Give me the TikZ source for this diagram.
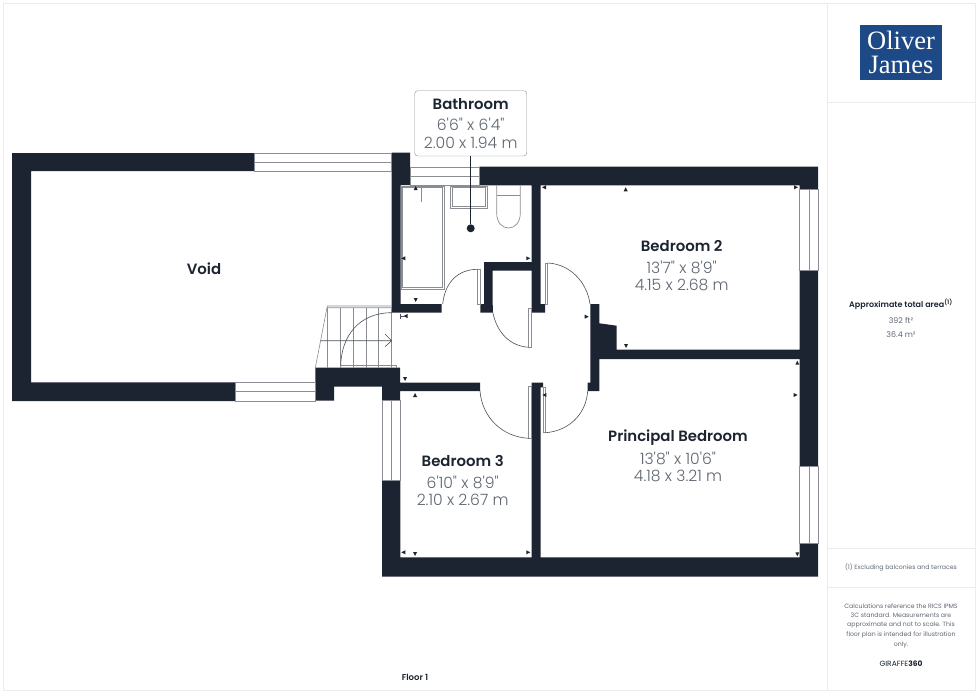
\documentclass[tikz,border=0pt]{standalone}
\usepackage{fontspec}
\newfontfamily\planfont{Poppins}
\newfontfamily\planlight{Poppins Light}
\newfontfamily\plansemi{Poppins SemiBold}
\newfontfamily\logofont{Liberation Serif}
\definecolor{wallcol}{HTML}{1B2430}
\definecolor{sizecol}{HTML}{5E6672}
\definecolor{panelcol}{HTML}{ECECEE}
\definecolor{fixcol}{HTML}{8A8E94}
\definecolor{logocol}{HTML}{1D4A86}
\tikzset{
  every node/.style={font=\planfont, inner sep=0pt},
  wall/.style={fill=wallcol, draw=none},
  roomname/.style={font=\plansemi\fontsize{14.9}{14.9}\selectfont, text=wallcol},
  roomsize/.style={font=\planlight\fontsize{15.6}{15.6}\selectfont, text=sizecol},
  sidetext/.style={font=\planfont\fontsize{6.2}{6.2}\selectfont, text=sizecol},
  areatext/.style={font=\planfont\fontsize{7.9}{7.9}\selectfont, text=sizecol},
  glazing/.style={draw=fixcol, line width=0.7pt},
  doorline/.style={draw=wallcol!80, line width=0.6pt},
  fixture/.style={draw=fixcol, line width=0.7pt},
  panelline/.style={draw=panelcol, line width=0.9pt}
}
\begin{document}
\begin{tikzpicture}[x=1pt,y=-1pt]
  \useasboundingbox (0,0) rectangle (980,693);

  % side panel
  \draw[panelline] (3,3) rectangle (975,690);
  \draw[panelline] (827,3) -- (827,690);
  \draw[panelline] (827,102.5) -- (975,102.5);
  \draw[panelline] (827,548) -- (975,548);
  \draw[panelline] (827,587.5) -- (975,587.5);

  % logo
  \fill[logocol] (860.3,25.3) rectangle (942,80);
  \node[font=\logofont\fontsize{26.5}{24}\selectfont, text=white, align=center] (logoname) at (901,52.5) {Oliver\\James};

  % walls
  \fill[wall] (12,153) -- (254,153) -- (254,171) -- (31,171) -- (31,382.3) -- (235,382.3)
    -- (235,401) -- (12,401) -- cycle;
  \fill[wall] (315.3,367.7) -- (400,367.7) -- (400,382.7) -- (480,382.7) -- (480,391) -- (400,391)
    -- (400,400) -- (382,400) -- (382,386.7) -- (334,386.7) -- (334,400.7) -- (315.3,400.7) -- cycle;
  \fill[wall] (391.7,152.7) -- (410,152.7) -- (410,185) -- (400.7,185) -- (400.7,304) -- (441.7,304)
    -- (441.7,312.7) -- (391.7,312.7) -- cycle;
  \fill[wall] (479.3,166.7) -- (818,166.7) -- (818,189) -- (799.7,189) -- (799.7,185.3)
    -- (540.7,185.3) -- (540.7,304) -- (545,304) -- (545,312.7) -- (531.7,312.7) -- (531.7,270.7)
    -- (492.7,270.7) -- (492.7,304) -- (493,312.7) -- (480.3,312.7) -- (480.3,304) -- (484,304)
    -- (484,262) -- (531.7,262) -- (531.7,185.3) -- (479.3,185.3) -- cycle;
  \fill[wall] (590.3,304) -- (599.3,304) -- (599.3,323.3) -- (616.7,325.7) -- (616.7,349.7)
    -- (799.7,349.7) -- (799.7,270) -- (818,270) -- (818,466) -- (799.7,466) -- (799.7,359)
    -- (599.3,359) -- (599.3,391) -- (587.7,391) -- (587.7,382.7) -- (590.3,382.7) -- cycle;
  \fill[wall] (382,480) -- (400.3,480) -- (400.3,557.3) -- (531.7,557.3) -- (531.7,382.7) -- (540.7,382.7)
    -- (543,382.7) -- (543,387.3) -- (540.7,387.3) -- (540.7,557.3) -- (799.7,557.3) -- (799.7,543)
    -- (818,543) -- (818,576.7) -- (382,576.7) -- cycle;

  % windows
  \foreach \xa/\ya/\xb/\yb/\xm/\ym/\xn/\yn in {
      254/153/391.7/171/254/162/391.7/162,
      235/382.3/315.3/401/235/391.7/315.3/391.7,
      410/167.3/479.3/185/410/176.5/479.3/176.5,
      382/400/400.3/480/391/400/391/480,
      799.7/189/818/270/809/189/809/270,
      799.7/466/818/543/809/466/809/543}
    \draw[glazing] (\xa,\ya) rectangle (\xb,\yb) (\xm,\ym) -- (\xn,\yn);

  % stairs
  \draw[doorline, draw=fixcol] (315.3,368) -- (327.3,306) -- (391.7,306) (327.3,307.7) -- (391.7,307.7);
  \foreach \xs in {327.3,340,353,366,378.7,391.7}
    \draw[doorline, draw=fixcol] (\xs,307.7) -- (\xs,367.7);
  \draw[doorline] (320.7,340.7) -- (391.7,340.7) (385,334) -- (391.7,340.7) -- (385,346.7);
  \draw[doorline] (340.7,367.7) .. controls (340.7,335) and (360,312.7) .. (391.7,312.7);
  \draw[doorline, draw=fixcol] (340.7,367.7) -- (340.7,365) -- (396.7,365) -- (396.7,367.7);

  % doors
  \draw[fixture] (477.5,269) rectangle (480.3,304);
  \draw[doorline] (442.7,304) .. controls (445,282) and (458,269.5) .. (477.5,269.3);
  \draw[fixture] (545.3,263) rectangle (547.5,304);
  \draw[doorline] (547.5,263) .. controls (570,264) and (587,282) .. (590,304);
  \draw[fixture] (528.7,308) rectangle (531.7,347.3);
  \draw[doorline] (492.7,312) .. controls (497,333) and (510,346) .. (528.7,347.3);
  \draw[fixture] (528.7,386.7) rectangle (531.7,438.3);
  \draw[doorline] (480,391) .. controls (482,417) and (502,437) .. (528.7,438.3);
  \draw[fixture] (543.3,387) rectangle (545.7,432.7);
  \draw[doorline] (545.7,432.7) .. controls (568,431) and (586,415) .. (587.7,391);

  % bathroom fittings
  \draw[fixture] (401,186) rectangle (444,289.3);
  \draw[fixture] (402.5,187.5) rectangle (442,287.5);
  \draw[fixture] (421.7,186) -- (421.7,201.7);
  \draw[fixture] (450.3,186) rectangle (487.3,208.3);
  \draw[fixture] (452,187.5) rectangle (485.7,206.5);
  \draw[fixture] (496.7,185.3) -- (496.7,213) .. controls (496.7,233) and (520.3,233) .. (520.3,213) -- (520.3,185.3);
  \draw[fixture] (496.7,195.3) -- (520.3,195.3);

  % measure marks
  \foreach \xm/\ym/\am in {415.7/188/90, 403.3/258.3/180, 415.7/300/270, 528.3/258.3/0, 544/187.3/180,
      405.5/316/180, 405/379/270, 415/395/90, 586.7/316.7/0, 544.3/395/180,
      403.3/552.3/180, 415/554/270, 528.3/552.3/0, 625.7/189.3/90, 796/187.3/0,
      626/346/270, 797.3/362.7/90, 795.7/395/0, 797.3/554.3/270}
    \fill[wallcol, shift={(\xm,\ym)}, rotate=\am] (2,0) -- (-2,-2) -- (-2,2) -- cycle;
  \draw[doorline] (400.3,313.5) -- (400.3,318.5) (400.3,316) -- (404,316);

  % room labels
  \node[roomname] (voidname) at (204,268.5) {Void};

  \draw[draw=fixcol, fill=white, rounded corners=3pt] (414.7,90.7) rectangle (526.7,156);
  \coordinate (bathbox) at (470.7,156);
  \node[roomname] (bathname) at (470.7,104) {Bathroom};
  \node[roomsize] (bathft) at (470.7,124.5) {6'6" x 6'4"};
  \node[roomsize] (bathm) at (470.7,143) {2.00 x 1.94 m};
  \node[circle, fill=wallcol, minimum size=8pt] (bathdot) at (470.7,228.3) {};
  \draw[draw=wallcol, line width=0.6pt] (bathbox) -- (bathdot);

  \node[roomname] (bedtwoname) at (681.7,246.5) {Bedroom 2};
  \node[roomsize] (bedtwoft) at (681.7,267) {13'7" x 8'9"};
  \node[roomsize] (bedtwom) at (681.7,285) {4.15 x 2.68 m};

  \node[roomname] (bedthreename) at (462.7,461.5) {Bedroom 3};
  \node[roomsize] (bedthreeft) at (462.7,482) {6'10" x 8'9"};
  \node[roomsize] (bedthreem) at (462.7,499.5) {2.10 x 2.67 m};

  \node[roomname] (princname) at (678,437.5) {Principal Bedroom};
  \node[roomsize] (princft) at (678,458) {13'8" x 10'6"};
  \node[roomsize] (princm) at (678,476) {4.18 x 3.21 m};

  % side panel texts
  \node[font=\plansemi\fontsize{8}{8}\selectfont, text=wallcol] (areaname) at (901,304.5) {Approximate total area\textsuperscript{(1)}};
  \node[areatext] (areaft) at (901,320.5) {392 ft²};
  \node[areatext] (aream) at (901,335) {36.4 m²};
  \node[sidetext] (exclnote) at (901,567.5) {(1) Excluding balconies and terraces};
  \node[sidetext] (calca) at (901,606) {Calculations reference the RICS IPMS};
  \node[sidetext] (calcb) at (901,615.7) {3C standard. Measurements are};
  \node[sidetext] (calcc) at (901,625.4) {approximate and not to scale. This};
  \node[sidetext] (calcd) at (901,635.2) {floor plan is intended for illustration};
  \node[sidetext] (calce) at (901,645) {only.};
  \node[font=\planfont\fontsize{7.5}{7.5}\selectfont, text=wallcol] (brand) at (901,664) {GIRAFFE\textbf{360}};
  \node[font=\plansemi\fontsize{8.5}{8.5}\selectfont, text=wallcol] (floorname) at (415,677) {Floor 1};
\end{tikzpicture}
\end{document}
